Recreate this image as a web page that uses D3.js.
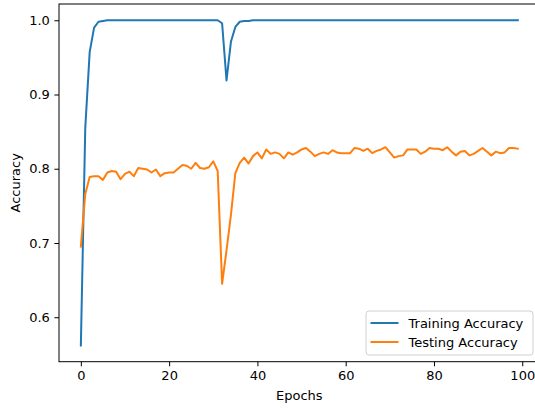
<!DOCTYPE html>
<html>
<head>
<meta charset="utf-8">
<script src="https://cdn.jsdelivr.net/npm/d3@7"></script>
<style>
  body { margin: 0; background: #fff; }
  svg { display: block; font-family: "DejaVu Sans", sans-serif; }
</style>
</head>
<body>
<div id="plotContainer"></div>
<script>
// values
const epochs = d3.range(0, 100);

const trainAcc = [
  0.562, 0.855, 0.957, 0.990, 0.998, 0.999, 1.000, 1.000, 1.000, 1.000,
  1.000, 1.000, 1.000, 1.000, 1.000, 1.000, 1.000, 1.000, 1.000, 1.000,
  1.000, 1.000, 1.000, 1.000, 1.000, 1.000, 1.000, 1.000, 1.000, 1.000,
  1.000, 1.000, 0.996, 0.919, 0.971, 0.991, 0.998, 0.999, 0.999, 1.000,
  1.000, 1.000, 1.000, 1.000, 1.000, 1.000, 1.000, 1.000, 1.000, 1.000,
  1.000, 1.000, 1.000, 1.000, 1.000, 1.000, 1.000, 1.000, 1.000, 1.000,
  1.000, 1.000, 1.000, 1.000, 1.000, 1.000, 1.000, 1.000, 1.000, 1.000,
  1.000, 1.000, 1.000, 1.000, 1.000, 1.000, 1.000, 1.000, 1.000, 1.000,
  1.000, 1.000, 1.000, 1.000, 1.000, 1.000, 1.000, 1.000, 1.000, 1.000,
  1.000, 1.000, 1.000, 1.000, 1.000, 1.000, 1.000, 1.000, 1.000, 1.000
];

const testAcc = [
  0.695, 0.766, 0.789, 0.790, 0.790, 0.785, 0.795, 0.797, 0.796, 0.786,
  0.793, 0.796, 0.790, 0.801, 0.800, 0.799, 0.795, 0.799, 0.790, 0.794,
  0.795, 0.795, 0.800, 0.805, 0.804, 0.800, 0.808, 0.801, 0.800, 0.802,
  0.810, 0.797, 0.645, 0.690, 0.738, 0.794, 0.808, 0.815, 0.807, 0.817,
  0.822, 0.814, 0.826, 0.820, 0.822, 0.820, 0.814, 0.822, 0.819, 0.822,
  0.826, 0.828, 0.823, 0.817, 0.820, 0.822, 0.820, 0.825, 0.822, 0.821,
  0.821, 0.821, 0.828, 0.827, 0.824, 0.827, 0.821, 0.824, 0.826, 0.829,
  0.822, 0.815, 0.817, 0.818, 0.826, 0.826, 0.826, 0.820, 0.823, 0.828,
  0.827, 0.827, 0.825, 0.829, 0.823, 0.818, 0.823, 0.824, 0.818, 0.820,
  0.824, 0.828, 0.823, 0.818, 0.823, 0.821, 0.822, 0.828, 0.828, 0.827
];

const seriesNames = ["Training Accuracy", "Testing Accuracy"];
const seriesColors = ["#1f77b4", "#ff7f0e"];
const xTicks = [0, 20, 40, 60, 80, 100];
const yTicks = [0.6, 0.7, 0.8, 0.9, 1.0];

const W = 535, H = 409;
const margin = {top: 4, right: -4.7, bottom: 47.3, left: 59};
const width = W - margin.left - margin.right,
      height = H - margin.top - margin.bottom;

const svg = d3.select("#plotContainer")
  .append("svg")
    .attr("width", W)
    .attr("height", H)
  .append("g")
    .attr("transform", `translate(${margin.left},${margin.top})`);

// matplotlib-like 5% margins
const xPad = (d3.max(epochs) - d3.min(epochs)) * 0.05;
const allY = trainAcc.concat(testAcc);
const yMin = d3.min(allY), yMax = d3.max(allY);
const yPad = (yMax - yMin) * 0.05;

const x = d3.scaleLinear()
  .domain([d3.min(epochs) - xPad, d3.max(epochs) + xPad])
  .range([0, width]);

const y = d3.scaleLinear()
  .domain([yMin - yPad, yMax + yPad])
  .range([height, 0]);

// lines
const series = [trainAcc, testAcc];
series.forEach(function(vals, i) {
  svg.append("path")
    .datum(vals)
    .attr("fill", "none")
    .attr("stroke", seriesColors[i])
    .attr("stroke-width", 2)
    .attr("stroke-linejoin", "round")
    .attr("stroke-linecap", "square")
    .attr("d", d3.line()
      .x(function(d, j) { return x(epochs[j]) })
      .y(function(d) { return y(d) })
    );
});

// axes
const xAxis = svg.append("g")
  .attr("transform", `translate(0, ${height})`)
  .call(d3.axisBottom(x).tickValues(xTicks).tickFormat(d3.format("d")).tickSizeOuter(0).tickSize(4.6).tickPadding(4.5));

const yAxis = svg.append("g")
  .call(d3.axisLeft(y).tickValues(yTicks).tickFormat(d3.format(".1f")).tickSizeOuter(0).tickSize(4.6).tickPadding(4.5));

[xAxis, yAxis].forEach(function(a) {
  a.select(".domain").remove();
  a.selectAll("line").attr("stroke", "#000").attr("stroke-width", 1);
  a.selectAll("text").attr("fill", "#000").style("font-size", "13px").style("font-family", "DejaVu Sans, sans-serif");
});

// spines
svg.append("rect")
  .attr("x", 0).attr("y", 0)
  .attr("width", width).attr("height", height)
  .attr("fill", "none")
  .attr("stroke", "#000")
  .attr("stroke-width", 1);

// axis labels
svg.append("text")
  .attr("x", width / 2)
  .attr("y", height + 38.5)
  .attr("text-anchor", "middle")
  .style("font-size", "13px")
  .text("Epochs");

svg.append("text")
  .attr("transform", `translate(${-39.5}, ${height / 2}) rotate(-90)`)
  .attr("text-anchor", "middle")
  .style("font-size", "13px")
  .text("Accuracy");

// legend
const lg = svg.append("g")
  .attr("transform", `translate(${366 - margin.left}, ${311 - margin.top})`);

lg.append("rect")
  .attr("width", 167)
  .attr("height", 44)
  .attr("rx", 3)
  .attr("fill", "#fff")
  .attr("fill-opacity", 0.8)
  .attr("stroke", "#d0d0d0")
  .attr("stroke-width", 1);

seriesNames.forEach(function(name, i) {
  const row = lg.append("g").attr("transform", `translate(0, ${12 + i * 19})`);
  row.append("line")
    .attr("x1", 4.5).attr("x2", 32.5)
    .attr("y1", 0).attr("y2", 0)
    .attr("stroke", seriesColors[i])
    .attr("stroke-width", 2);
  row.append("text")
    .attr("x", 42.5)
    .attr("y", 4.7)
    .style("font-size", "13px")
    .text(name);
});
</script>
</body>
</html>
